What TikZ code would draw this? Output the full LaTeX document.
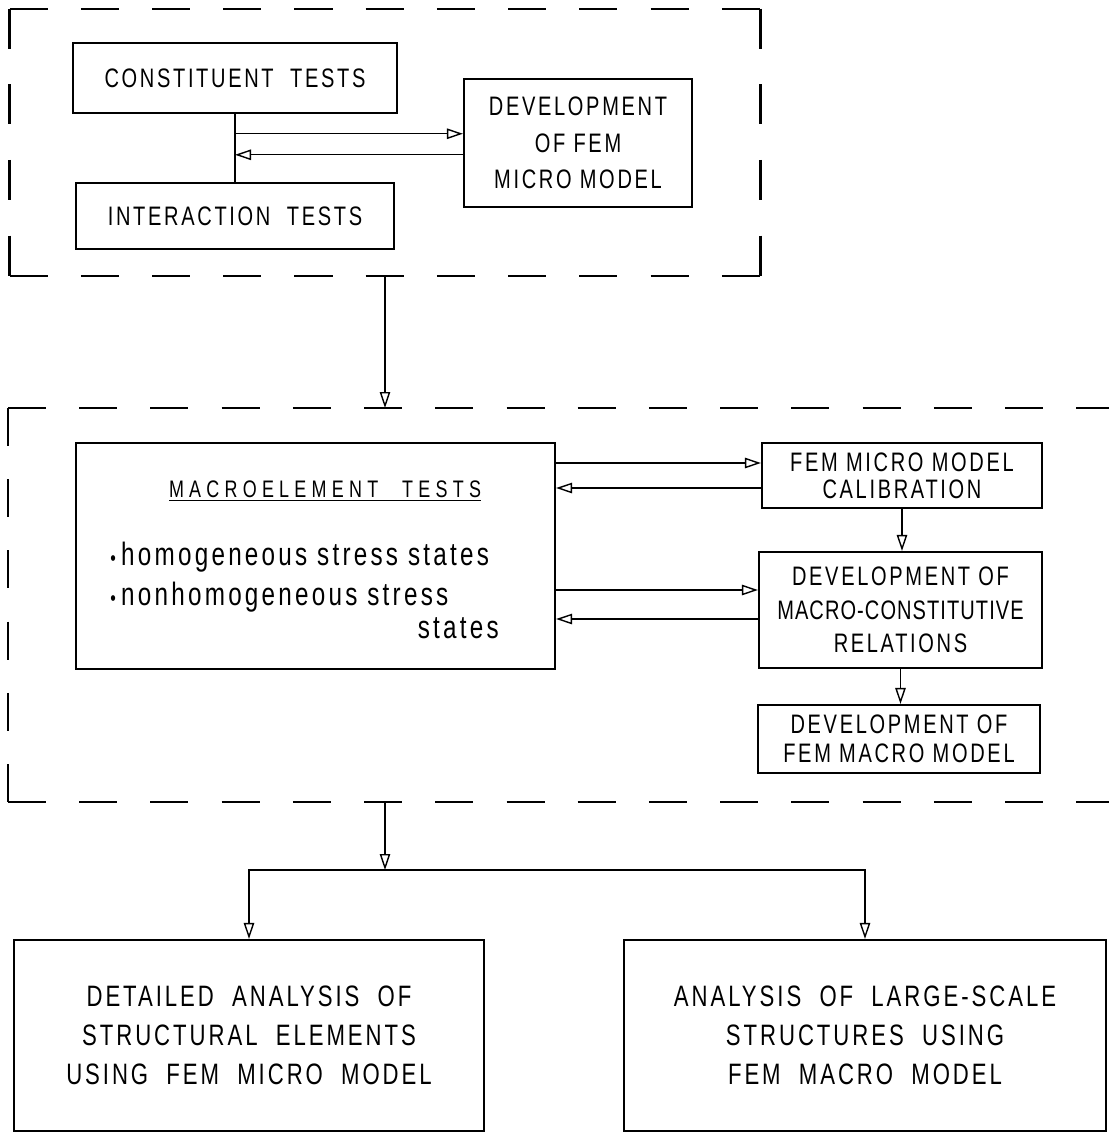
\documentclass[tikz,border=0pt]{standalone}
\usepackage{fontspec}
\setmainfont{Liberation Sans}[FakeStretch=0.75,LetterSpace=10]
\usetikzlibrary{arrows.meta,calc}
\def\lett#1#2{\fontsize{#1}{#2}\selectfont}

\begin{document}
\begin{tikzpicture}[x=0.025cm, y=-0.025cm,
    box/.style={draw, line width=1.5pt, align=center, inner sep=2pt},
    grp/.style={line width=1.6pt, dash pattern=on 0.95cm off 0.83cm},
    grpv/.style={line width=1.6pt, dash pattern=on 1cm off 0.89cm},
    arr/.style={line width=1pt, -{Triangle[open, length=0.4cm, width=0.26cm]}}]
	%%%%% START %%%%%
	\useasboundingbox (0,0) rectangle (1109,1134);

	% micro level
	\node[minimum width=18.75cm, minimum height=6.675cm] (grp1) at (385,142.5) {};
	\draw[grp] (grp1.north west) -- (grp1.north east);
	\draw[grp] (grp1.south west) -- (grp1.south east);
	\draw[grpv] (grp1.north west) -- (grp1.south west);
	\draw[grpv] (grp1.north east) -- (grp1.south east);
	\node[box, minimum width=8.1cm, minimum height=1.75cm, font=\lett{19}{22}] (ct) at (235,78) {CONSTITUENT\ \ TESTS};
	\node[box, minimum width=7.95cm, minimum height=1.65cm, font=\lett{19}{22}] (it) at (235,216) {INTERACTION\ \ TESTS};
	\node[box, minimum width=5.7cm, minimum height=3.2cm, font=\lett{19}{26}] (dev) at (578,143) {DEVELOPMENT\\OF FEM\\MICRO MODEL};

	\draw[line width=1pt] (ct.south) -- (it.north);
	\coordinate (j1) at ($(ct.south)!0.29!(it.north)$);
	\coordinate (j2) at ($(ct.south)!0.6!(it.north)$);
	\draw[arr] (j1) -- (j1 -| dev.west);
	\draw[arr] (j2 -| dev.west) -- (j2);

	\coordinate (g2top) at (385,408);
	\draw[arr] (grp1.south) -- (g2top);

	% macro level
	\draw[grp] (8,408) -- (1109,408);
	\draw[grp] (8,408) -- (8,802);
	\draw[grp] (8,802) -- (1109,802);

	\node[box, minimum width=11.975cm, minimum height=5.65cm] (mac) at (315.5,556) {};
	\node[font=\lett{17}{20}\addfontfeature{LetterSpace=22}] (mactitle) at (325,491) {\underline{MACROELEMENT\quad TESTS}};
	\node[anchor=base west, inner sep=0pt, font=\lett{23}{26}] (hom) at (110,565) {{\lett{15}{15}\textbullet}\,homogeneous\ stress\ states};
	\node[anchor=base west, inner sep=0pt, font=\lett{23}{26}] (nonhom) at (110,605) {{\lett{15}{15}\textbullet}\,nonhomogeneous\ stress};
	\node[anchor=base east, inner sep=0pt, font=\lett{23}{26}] (sts) at (499,638) {states};

	\node[box, minimum width=7cm, minimum height=1.625cm, font=\lett{19}{19}] (cal) at (902,475.5) {FEM MICRO MODEL\\CALIBRATION};
	\node[box, minimum width=7.075cm, minimum height=2.9cm, font=\lett{19}{24}] (rel) at (900.5,610) {DEVELOPMENT OF\\{\addfontfeature{LetterSpace=4}MACRO-CONSTITUTIVE}\\RELATIONS};
	\node[box, minimum width=7.05cm, minimum height=1.7cm, font=\lett{19}{21}] (mmm) at (899,739) {DEVELOPMENT OF\\FEM MACRO MODEL};

	\coordinate (c1) at ([yshift=0.3125cm]cal.west);
	\coordinate (c2) at ([yshift=-0.3125cm]cal.west);
	\coordinate (r1) at ([yshift=0.5cm]rel.west);
	\coordinate (r2) at ([yshift=-0.225cm]rel.west);
	\draw[arr] (c1 -| mac.east) -- (c1);
	\draw[arr] (c2) -- (c2 -| mac.east);
	\draw[arr] (r1 -| mac.east) -- (r1);
	\draw[arr] (r2) -- (r2 -| mac.east);
	\draw[arr] (cal.south) -- (cal.south |- rel.north);
	\draw[arr] (rel.south) -- (rel.south |- mmm.north);

	% analyses
	\node[box, minimum width=11.75cm, minimum height=4.775cm, font=\lett{21}{27.7}] (dal) at (249,1035.5) {DETAILED\ \ ANALYSIS\ \ OF\\STRUCTURAL\ \ ELEMENTS\\USING\ \ FEM\ \ MICRO\ \ MODEL};
	\node[box, minimum width=12.05cm, minimum height=4.775cm, font=\lett{21}{27.7}] (als) at (865,1035.5) {ANALYSIS\ \ OF\ \ LARGE-SCALE\\STRUCTURES\ \ USING\\FEM\ \ MACRO\ \ MODEL};

	\coordinate (g2bot) at (385,802);
	\coordinate (split) at (385,870);
	\draw[arr] (g2bot) -- (split);
	\draw[arr] (split) -| (dal.north);
	\draw[arr] (split) -| (als.north);
	%%%%% END %%%%%
\end{tikzpicture}
\end{document}
